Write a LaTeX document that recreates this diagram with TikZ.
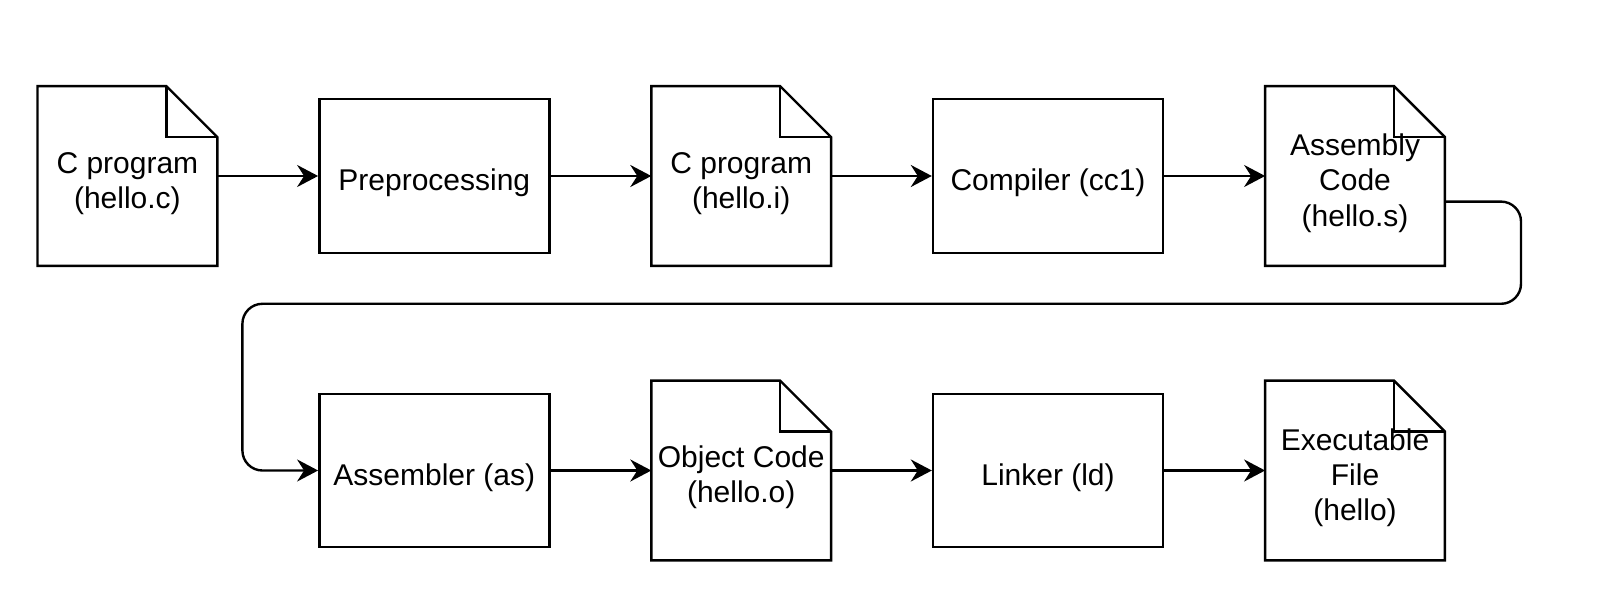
\documentclass[tikz,border=0pt]{standalone}
\usepackage{fontspec}
\setmainfont{Liberation Sans}
\usepackage{tikz}
\usetikzlibrary{arrows.meta}

\begin{document}
\begin{tikzpicture}[x=0.5pt,y=-0.5pt,
		line/.style={line width=1.2pt},
		flow/.style={line, -{Stealth[length=10.5pt,width=11pt,inset=3.5pt]}},
		stage/.style={line, draw, minimum width=115pt, minimum height=76.75pt, inner sep=0pt, align=center, execute at begin node={\rule{0pt}{18pt}}},
		file/.style={minimum width=89.5pt, minimum height=89.5pt, inner sep=0pt, align=center, execute at begin node={\rule{0pt}{#1}}},
		file/.default=35.6pt,
		font=\fontsize{15}{17.6}\selectfont]
		
		%%Location
		\useasboundingbox (0,0) rectangle (1604,608);
		
		%%First row
		\node[file] (hello_c) at (127.4,176) {C program\\(hello.c)};
		\node[stage] (pre) at (434.3,176) {Preprocessing};
		\node[file] (hello_i) at (741.2,176) {C program\\(hello.i)};
		\node[stage] (cc) at (1048,176) {Compiler (cc1)};
		\node[file=53.2pt] (hello_s) at (1355,176) {Assembly\\Code\\(hello.s)};
		
		%%Second row
		\node[stage] (as) at (434.3,470.5) {Assembler (as)};
		\node[file] (hello_o) at (741.2,470.5) {Object Code\\(hello.o)};
		\node[stage] (ld) at (1048,470.5) {Linker (ld)};
		\node[file=53.2pt] (hello) at (1355,470.5) {Executable\\File\\(hello)};
		
		%%Files with folded corner
		\foreach \f in {hello_c,hello_i,hello_s,hello_o,hello}{
			\draw[line, line join=miter] (\f.north west) -- ([xshift=-25.5pt]\f.north east) -- ([yshift=-25.5pt]\f.north east) -- (\f.south east) -- (\f.south west) -- cycle;
			\draw[line] ([xshift=-25.5pt]\f.north east) |- ([yshift=-25.5pt]\f.north east);
		}
		
		%%Arrows
		\draw[flow] (hello_c) -- (pre);
		\draw[flow] (pre) -- (hello_i);
		\draw[flow] (hello_i) -- (cc);
		\draw[flow] (cc) -- (hello_s);
		\draw[flow, rounded corners=10pt] ([yshift=-12.8pt]hello_s.east) -- (1521,201.6) |- (242.4,303.8) |- (as.west);
		\draw[flow] (as) -- (hello_o);
		\draw[flow] (hello_o) -- (ld);
		\draw[flow] (ld) -- (hello);
		
\end{tikzpicture}
\end{document}
